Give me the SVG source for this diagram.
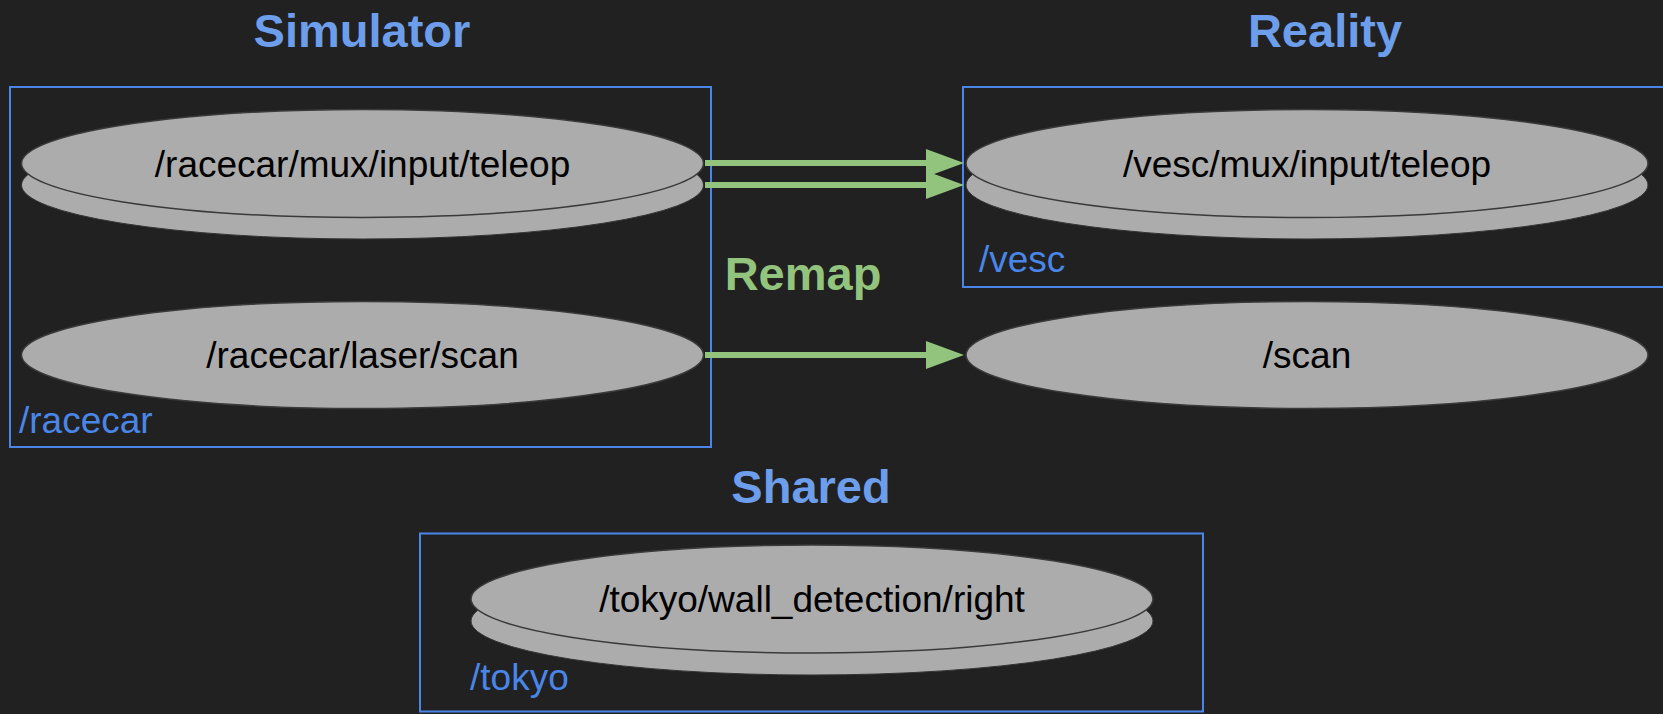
<svg xmlns="http://www.w3.org/2000/svg" width="1663" height="714" viewBox="0 0 1663 714">
  <style>
    .title { font-family: "Liberation Sans", Arial, sans-serif; font-weight: bold; font-size: 47px; fill: #6d9eeb; text-anchor: middle; }
    .remap { font-family: "Liberation Sans", Arial, sans-serif; font-weight: bold; font-size: 47px; fill: #93c47d; text-anchor: middle; }
    .group { fill: none; stroke: #4a86e8; stroke-width: 2; }
    .glabel { font-family: "Liberation Sans", Arial, sans-serif; font-size: 37px; fill: #4a86e8; }
    .topic { fill: #acacac; stroke: #3a3a3a; stroke-width: 1.5; }
    .under { fill: #acacac; stroke: #333333; stroke-width: 1; }
    .tlabel { font-family: "Liberation Sans", Arial, sans-serif; font-size: 37px; fill: #000000; text-anchor: middle; }
    .edge { stroke: #93c47d; stroke-width: 6; fill: none; }
    .head { fill: #93c47d; }
  </style>
  <rect width="1663" height="714" fill="#212121"/>

  <!-- section headings -->
  <text class="title" x="362" y="46.5">Simulator</text>
  <text class="title" x="1325" y="46.5">Reality</text>
  <text class="title" x="811" y="503">Shared</text>
  <text class="remap" x="803" y="290">Remap</text>

  <!-- namespace boxes -->
  <g id="ns-racecar">
    <rect class="group" x="10" y="87" width="701" height="360"/>
    <text class="glabel" x="19" y="433">/racecar</text>
  </g>
  <g id="ns-vesc">
    <rect class="group" x="963" y="87" width="710" height="200"/>
    <text class="glabel" x="979" y="272">/vesc</text>
  </g>
  <g id="ns-tokyo">
    <rect class="group" x="420" y="533.5" width="783" height="178"/>
    <text class="glabel" x="470" y="690">/tokyo</text>
  </g>

  <!-- topics -->
  <g id="racecar-teleop">
    <ellipse class="under" cx="362.5" cy="185" rx="341" ry="54"/>
    <ellipse class="topic" cx="362.5" cy="163.5" rx="341" ry="54"/>
    <text class="tlabel" x="362.5" y="176.5">/racecar/mux/input/teleop</text>
  </g>
  <g id="racecar-scan">
    <ellipse class="topic" cx="362.5" cy="355" rx="341" ry="53.5"/>
    <text class="tlabel" x="362.5" y="368">/racecar/laser/scan</text>
  </g>
  <g id="vesc-teleop">
    <ellipse class="under" cx="1307" cy="185" rx="341" ry="54"/>
    <ellipse class="topic" cx="1307" cy="163.5" rx="341" ry="54"/>
    <text class="tlabel" x="1307" y="176.5">/vesc/mux/input/teleop</text>
  </g>
  <g id="scan">
    <ellipse class="topic" cx="1307" cy="355" rx="341" ry="53.5"/>
    <text class="tlabel" x="1307" y="368">/scan</text>
  </g>
  <g id="tokyo-wall-right">
    <ellipse class="under" cx="812" cy="621" rx="341" ry="54"/>
    <ellipse class="topic" cx="812" cy="599" rx="341" ry="54"/>
    <text class="tlabel" x="812" y="612">/tokyo/wall_detection/right</text>
  </g>

  <!-- remap connectors -->
  <g id="connectors">
    <line class="edge" x1="705" y1="163" x2="928" y2="163"/>
    <polygon class="head" points="926,149 964,163 926,177"/>
    <line class="edge" x1="705" y1="185" x2="928" y2="185"/>
    <polygon class="head" points="926,171 964,185 926,199"/>
    <line class="edge" x1="705" y1="355" x2="928" y2="355"/>
    <polygon class="head" points="926,341 964,355 926,369"/>
  </g>
</svg>
